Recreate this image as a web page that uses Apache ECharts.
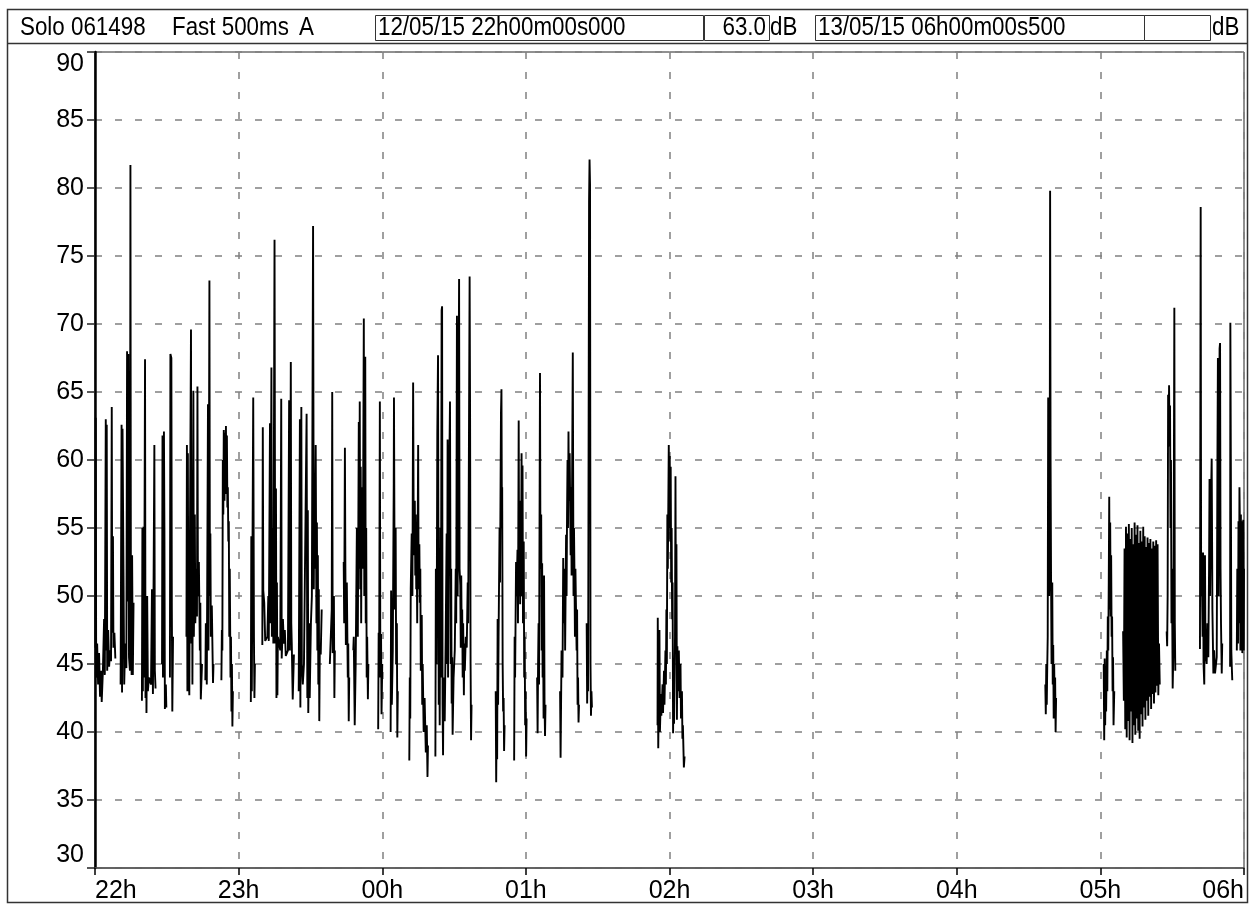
<!DOCTYPE html>
<html>
<head>
<meta charset="utf-8">
<script src="https://cdn.jsdelivr.net/npm/echarts@6.0.0/dist/echarts.min.js"></script>
<style>
  html, body { margin: 0; padding: 0; background: #fff; }
  #chart { width: 1250px; height: 904px; }
</style>
</head>
<body>
<div id="chart"></div>
<script>
// sound level, A-weighted, Fast 500ms -- [minutes after 22h00, dB]
// each burst is one stretch of recorded data, gaps between them are left empty
var burst0 = [[0.2,46.2],[0.3,63.1],[0.5,44],[0.9,46.5],[1.3,43.5],[1.7,45.8],[2.1,42.6],[2.5,44.5],[2.8,42.2],[3.3,44.5],
  [3.8,48.3],[4.1,44.2],[4.5,63.0],[4.7,46],[4.9,62.6],[5.1,44.5],[5.5,47.5],[5.9,44.8],[6.3,46],
  [6.7,45.2],[7.0,63.9],[7.2,47.3],[7.5,54.4],[7.7,46.2],[8.1,47.3],[8.5,45.4]];
var burst1 = [[10.7,43.5],[11.1,62.6],[11.3,42.9],[11.5,62.3],[11.9,51.8],[12.2,43.5],[12.6,46.5],
  [13.1,44.7],[13.4,68],[13.6,49.6],[13.9,67.8],[14.2,45.5],[14.6,44.5],[14.8,81.7],[15.0,49.3],[15.3,44.2],[15.5,53],[15.8,44.2],[16.1,49.5]];
var burst2 = [[19.6,42.3],[19.8,55],[20.0,43],[20.2,55.1],[20.5,44],[20.9,67.4],[21.1,42.5],[21.3,49.9],[21.5,41.4],[21.8,50],[22.1,43],[22.5,44],
  [23.4,43.5],[23.8,50.5],[24.2,42.8],[24.8,61.1],[25.0,44.5],[25.3,43.2]];
var burst3 = [[28.0,45],[28.2,61.8],[28.4,44],[28.8,62.1],[29.0,55],[29.2,41.7],[29.6,43.5],[29.8,41.8]];
var burst4 = [[31.3,44],[31.5,67.8],[31.9,67.5],[32.1,49],[32.3,41.5],[32.6,47]];
var burst5 = [[38.2,47],[38.4,61.1],[38.6,43],[38.8,60.5],[39.0,46],[39.4,42.7],[39.6,52],[40.1,69.6],[40.3,46.5],[40.5,55],[40.7,43.5],
  [41.1,65.1],[41.3,47],[41.7,56],[41.9,48],[42.4,52],[42.6,48.5],[42.8,65.4],[43.0,50],[43.4,52.5],[43.8,46],[44.0,49.5],[44.2,42.4],[44.7,45]];
var burst6 = [[46.1,43.8],[46.3,48],[46.7,43.5],[47.2,64.1],[47.4,46],[47.8,73.2],[48.0,50],[48.2,54.6],[48.4,47],[48.8,49.3],[49.3,43.6],[49.5,45]];
var burst7 = [[52.8,43.8],[53.0,47.5],[53.2,46],[53.4,60],[53.6,56],[53.8,62.2],[54.1,57],[54.3,62],[54.5,58],[54.7,62.5],[54.9,57.5],
  [55.1,61.8],[55.3,56.5],[55.5,58],[55.7,54],[55.9,55.5],[56.1,47],[56.3,52],[56.6,44],[56.8,47],[57.0,41.5],[57.2,45],[57.4,40.4],[57.6,43]];
var burst8 = [[65.1,42.2],[65.3,54.4],[65.5,43],[66.1,64.6],[66.4,47],[66.6,42.5],[66.8,45]];
var burst9 = [[69.9,46.4],[70.1,62.4],[70.3,50.4],[70.7,49.5],[71.1,46.7],[72.0,47],[72.4,50],[72.6,46.7],[73.1,62.7],[73.3,48],[73.7,66.8],
  [73.9,47],[74.3,55],[74.5,46.5],[75.0,76.2],[75.3,46.5],[75.6,57.9],[75.8,42.5],[76.0,51],[76.2,42.7],[76.4,47],
  [77.4,46],[77.8,64.5],[78.0,45.4],[78.5,48.3],[78.9,46.5],[79.3,47.5],[79.7,45.6],[80.6,46],[81.1,64.4],[81.4,46],[81.8,67.2],
  [82.0,48],[82.2,46.5],[82.6,42.4],[83.1,45.7]];
var burst10 = [[85.1,43],[85.6,63],[85.8,41.8],[86.2,63.9],[86.4,45],[86.8,43.5],[87.3,45],[88.4,63.4],[88.7,42.5],[88.9,56.3],[89.1,41.4],
  [89.5,48],[89.7,42.5],[90.2,48],[90.6,50],[91.1,77.2],[91.4,50.5],[91.6,56.9],[91.8,52],[92.2,61.1],[92.5,48],[92.7,55.4],[92.9,46],
  [93.1,53],[93.3,43.5],[93.5,50.5],[93.7,40.8],[93.9,46],[94.3,45.7],[94.7,49]];
var burst11 = [[98.1,45],[98.5,44.9],[98.9,49],[99.1,65],[99.3,45.8],[99.8,50],[100.0,42.5],[100.2,46]];
var burst12 = [[103.9,52.5],[104.1,48],[104.4,60.9],[104.6,52],[104.8,46.4],[105.2,51],[105.6,44],[105.8,46.5],[106.0,40.8],[106.2,44]];
var burst13 = [[107.9,46],[108.1,47],[108.5,40.5],[108.9,45],[109.4,55],[109.8,47],[110.2,62.8],[110.4,52],[110.6,64.3],[110.8,50.5],
  [111.0,59.5],[111.2,48],[111.4,58],[111.9,52],[112.3,70.4],[112.5,50],[112.9,67.6],[113.1,48],[113.3,55],[113.5,44],[113.7,47],[114.0,42.4],[114.2,45]];
var burst14 = [[118.3,40.2],[118.5,47.3],[118.7,45],[119.0,64.3],[119.2,44],[119.5,47.2],[119.7,41.3],[120.0,45]];
var burst15 = [[123.5,40],[123.7,50.4],[124.0,42],[124.4,46],[124.8,58.3],[124.9,64.6],[125.2,49],[125.6,55],[125.8,45],[126.1,48],[126.3,39.6],[126.5,43]];
var burst16 = [[131.3,37.9],[131.5,44],[131.7,41],[131.9,50.5],[132.3,54.6],[132.6,50],[132.9,65.7],[133.1,56.6],[133.4,53],[133.6,57],
  [133.8,51.5],[134.0,56],[134.2,50.5],[134.4,53.5],[134.6,48],[135.0,61.1],[135.2,50.5],[135.5,53.8],[135.7,49.5],[135.9,52],[136.1,44.5],
  [136.5,48.6],[136.7,42],[136.9,45],[137.3,40],[137.7,42.5],[138.2,38.5],[138.6,40.5],[138.9,36.7],[139.1,39]];
var burst17 = [[142.2,38.2],[142.4,52],[142.7,45],[143.0,62],[143.3,67.7],[143.6,42],[143.8,49],[144.0,40.5],[144.3,55],[144.5,44],
  [144.8,71.0],[145.0,71.3],[145.2,42],[145.4,38.3],[145.6,44],[146.1,40.8],[146.5,47],[146.9,54.6],[147.1,45],[147.3,61.5],[147.5,44],
  [147.8,56],[148.3,64.3],[148.6,45],[148.8,52],[149.0,42.1],[149.2,45.5],[149.4,39.8],[149.8,44],[150.3,46],[150.7,52],[150.9,48],
  [151.2,70.6],[151.5,50],[151.7,58],[152.1,73.3],[152.3,52],[152.6,50.8],[152.8,46.2],[153.0,51.5],[153.2,47],[153.4,49],[153.6,44],
  [153.8,48],[154.1,42.7],[154.3,46.5],[154.5,44.5],[154.9,47],[155.3,46.2],[155.7,51],[155.9,48],[156.2,48],[156.5,73.5],[156.7,62.9],
  [156.9,45],[157.1,39.4],[157.3,42]];
var burst18 = [[167.4,43],[167.6,36.3],[167.8,41],[168.0,38],[168.2,48.3],[168.4,42],[168.6,47],[169.0,55],[169.2,51],[169.6,63.5],
  [169.8,65.2],[170.0,55],[170.1,58],[170.3,45],[170.5,41.5],[170.7,42.5],[170.9,38.6],[171.1,40.5]];
var burst19 = [[175.1,37.9],[175.3,47],[175.5,44],[175.9,52.5],[176.1,50],[176.5,53.4],[176.7,48],[177.0,62.9],[177.2,50],[177.4,55],
  [177.6,49.4],[177.8,57],[178.0,52],[178.2,60.5],[178.4,50],[178.6,59.6],[178.8,48],[179.1,54],[179.3,44],[179.5,47],[179.7,40.5],
  [179.9,43],[180.1,38.2],[180.3,41]];
var burst20 = [[184.7,44],[184.9,39.9],[185.1,45],[185.3,48],[185.5,43.5],[185.9,66.4],[186.1,52],[186.4,56],[186.6,46],[186.8,52.4],
  [187.0,44],[187.2,47],[187.4,41],[187.6,51.5],[187.8,42],[188.0,39.7],[188.2,42]];
var burst21 = [[194.3,43],[194.5,38.1],[194.7,42],[194.9,46],[195.3,44],[195.6,52.8],[195.8,48],[196.2,52],[196.4,46],[196.8,54.5],
  [197.0,50],[197.2,56],[197.4,60],[197.6,55],[197.8,62.1],[198.0,57],[198.3,60.5],[198.7,53],[198.9,58],[199.1,51.5],[199.6,67.9],
  [199.9,50],[200.1,55],[200.3,51.7],[200.5,47],[200.7,52],[201.2,46],[201.4,49],[201.6,42],[201.8,44],[202.0,40.7],[202.2,42]];
var burst22 = [[205.4,48],[205.6,42.1],[205.8,46],[206.0,43],[206.4,79],[206.6,82.1],[206.8,80.3],[207.0,45],[207.2,41.2],[207.4,43],[207.6,41.8]];
var burst23 = [[235.0,40.5],[235.1,48.4],[235.3,38.8],[235.6,44],[235.8,47.5],[236.0,40],[236.4,42.8],[236.6,41.2],[237.1,43.5],[237.3,41.4],
  [237.7,44.5],[237.9,42],[238.3,46],[238.5,43.5],[238.7,49],[238.9,45],[239.1,56],[239.3,52],[239.7,61.1],[239.9,55],[240.1,60.3],
  [240.3,54],[240.5,59.5],[240.7,51],[240.9,55],[241.1,48.3],[241.3,51],[241.5,39.9],[241.7,44],[241.9,40.6],[242.3,47],[242.5,58.8],
  [242.7,47],[242.9,53.8],[243.1,40.9],[243.3,46.3],[243.5,43],[243.9,46],[244.2,42.5],[244.6,45],[244.8,41],[245.2,43],[245.4,39.5],
  [245.6,40.5],[246.0,37.4],[246.3,38.2]];
var burst24 = [[397.0,43.5],[397.2,41.3],[397.4,45],[397.6,42],[397.8,44.7],[398.0,47],[398.2,64.6],[398.4,63.5],[398.6,50],[398.8,53],
  [399.0,79.8],[399.2,60],[399.4,51.2],[399.6,45],[399.9,51],[400.1,43.5],[400.3,46.4],[400.5,41],[400.7,45],[400.9,42],[401.1,44],
  [401.3,40],[401.5,42.5]];
var burst25 = [[421.4,45],[421.6,39.4],[421.8,45.4],[422.0,40.5],[422.2,44],[422.4,41.5],[422.7,46],[422.9,43],[423.1,48.5],[423.3,46],
  [423.5,51],[423.7,57.3],[423.9,49],[424.1,55.4],[424.3,48.5],[424.5,53],[424.7,47],[424.9,48.5],[425.1,43],[425.3,45.5],[425.5,40.5],[425.8,43]];
var burst26 = [[429.5,47.4],[429.8,42.3],[430.1,53.5],[430.4,40.2],[430.7,55.1],[431.0,39.6],[431.3,54.6],[431.6,40.8],[431.9,55.3],
  [432.2,39.4],[432.5,54.2],[432.8,41.5],[433.1,55.0],[433.4,39.2],[433.7,53.8],[434.0,40.5],[434.3,55.4],[434.6,39.8],[434.9,54.5],
  [435.2,41.0],[435.5,55.2],[435.8,40.1],[436.1,53.9],[436.4,39.5],[436.7,54.8],[437.0,41.3],[437.3,54.0],[437.6,40.4],[437.9,55.1],
  [438.2,41.8],[438.5,54.4],[438.8,40.9],[439.1,53.6],[439.4,42.3],[439.7,54.3],[440.0,41.2],[440.3,53.9],[440.6,42.6],[440.9,54.2],
  [441.2,41.7],[441.5,53.5],[441.8,42.8],[442.1,54.0],[442.4,42.1],[442.7,53.7],[443.0,42.9],[443.3,54.1],[443.6,43.4],[443.9,53.8],
  [444.2,42.7],[444.5,46.5],[444.8,43.5]];
var burst27 = [[447.7,47.4],[447.9,46.3],[448.1,50],[448.3,64.8],[448.5,62],[448.7,65.5],[448.9,61],[449.1,64],[449.3,55],[449.5,60],
  [449.7,48],[449.9,52],[450.2,43.2],[450.5,46],[450.9,71.2],[451.1,48],[451.3,44.5]];
var burst28 = [[461.6,46.1],[461.9,78.6],[462.1,50],[462.3,53.2],[462.7,47],[462.9,53.2],[463.1,45],[463.4,43.5],[463.7,53],[463.9,46],
  [464.4,45],[464.7,48],[465.1,45.5],[465.4,52],[465.6,58.6],[465.8,50],[466.2,57],[466.5,60.1],[466.8,49],[467.2,44.3],[467.5,46],
  [467.9,44.3],[468.6,45.5],[468.9,60],[469.1,67.5],[469.4,50],[469.6,62],[469.8,68.2],[470.0,68.6],[470.2,52],[470.4,47.9],[470.7,44.3],[470.9,46.5]];
var burst29 = [[474.2,44.8],[474.3,70.1],[474.5,60],[474.7,46],[474.9,44.8],[475.1,43.8]];
var burst30 = [[477.0,46],[477.2,52],[477.5,46.5],[477.7,55.5],[477.9,48],[478.1,58],[478.3,55],[478.5,46],[478.7,56],[478.9,47],
  [479.1,55.5],[479.3,45.8],[479.5,50],[479.7,55.6],[479.9,46],[480.0,52]];

var bursts = [burst0, burst1, burst2, burst3, burst4, burst5, burst6, burst7, burst8, burst9, burst10,
  burst11, burst12, burst13, burst14, burst15, burst16, burst17, burst18, burst19, burst20,
  burst21, burst22, burst23, burst24, burst25, burst26, burst27, burst28, burst29, burst30];

var hourLabels = ['22h', '23h', '00h', '01h', '02h', '03h', '04h', '05h', '06h'];
var dbTicks = [30, 35, 40, 45, 50, 55, 60, 65, 70, 75, 80, 85, 90];

var headerId = 'Solo 061498';
var headerMode = 'Fast 500ms';
var headerWeight = 'A';
var startStamp = '12/05/15 22h00m00s000';
var levelText = '63.0';
var endStamp = '13/05/15 06h00m00s500';

// join bursts, a '-' point breaks the line between them
var levelData = [];
bursts.forEach(function (b) {
  b.forEach(function (p) { levelData.push(p); });
  levelData.push([b[b.length - 1][0] + 0.05, '-']);
});

var FONT = '"Liberation Sans", Arial, sans-serif';
var chart = echarts.init(document.getElementById('chart'));

// header text is condensed in the original, squeeze it horizontally
function txt(text, x, align) {
  return {
    type: 'text', z: 10, x: x, y: 28, scaleX: 0.86,
    style: {
      text: text, x: 0, y: 0, fill: '#000',
      fontSize: 26, fontFamily: FONT,
      align: align || 'left', verticalAlign: 'middle',
      textAlign: align || 'left', textVerticalAlign: 'middle'
    }
  };
}
function box(x, w) {
  return {
    type: 'rect', z: 10,
    shape: { x: x, y: 15.5, width: w, height: 25 },
    style: { fill: 'none', stroke: '#333', lineWidth: 1 }
  };
}

chart.setOption({
  animation: false,
  backgroundColor: '#fff',
  grid: {
    left: 95, right: 6, top: 52, bottom: 36,
    show: true, borderColor: '#222', borderWidth: 1
  },
  xAxis: {
    type: 'value', min: 0, max: 480, interval: 60,
    axisLine: { show: true, onZero: false, lineStyle: { color: '#555', width: 1.5 } },
    axisTick: { show: true, length: 7, lineStyle: { color: '#000', width: 1.5 } },
    axisLabel: {
      color: '#000', fontSize: 25, fontFamily: FONT, margin: 11,
      alignMinLabel: 'left', alignMaxLabel: 'right',
      formatter: function (v) { return hourLabels[Math.round(v / 60)]; }
    },
    splitLine: { show: true, lineStyle: { color: '#808080', width: 1.5, type: [7, 13] } }
  },
  yAxis: {
    type: 'value', min: dbTicks[0], max: dbTicks[dbTicks.length - 1], interval: 5,
    axisLine: { show: true, lineStyle: { color: '#000', width: 2.5 } },
    axisTick: { show: true, length: 8, lineStyle: { color: '#222', width: 1.5 } },
    axisLabel: {
      color: '#000', fontSize: 25, fontFamily: FONT, margin: 11,
      verticalAlignMinLabel: 'bottom', verticalAlignMaxLabel: 'top'
    },
    splitLine: { show: true, lineStyle: { color: '#808080', width: 1.5, type: [7, 13] } }
  },
  series: [{
    type: 'line',
    data: levelData,
    showSymbol: false,
    symbol: 'none',
    sampling: null,
    connectNulls: false,
    lineStyle: { color: '#000', width: 1.9 },
    z: 5
  }],
  graphic: [
    // outer frame and header strip
    { type: 'rect', z: 10, shape: { x: 7.5, y: 9.5, width: 1240, height: 893 }, style: { fill: 'none', stroke: '#333', lineWidth: 1.5 } },
    { type: 'line', z: 10, shape: { x1: 7.5, y1: 43.5, x2: 1247.5, y2: 43.5 }, style: { stroke: '#333', lineWidth: 1.5 } },
    box(375.5, 328), box(704.5, 65), box(815.5, 329), box(1144.5, 66),
    txt(headerId, 20), txt(headerMode, 172), txt(headerWeight, 299),
    txt(startStamp, 378), txt(levelText, 766, 'right'), txt('dB', 770),
    txt(endStamp, 818), txt('dB', 1212)
  ]
});
</script>
</body>
</html>
